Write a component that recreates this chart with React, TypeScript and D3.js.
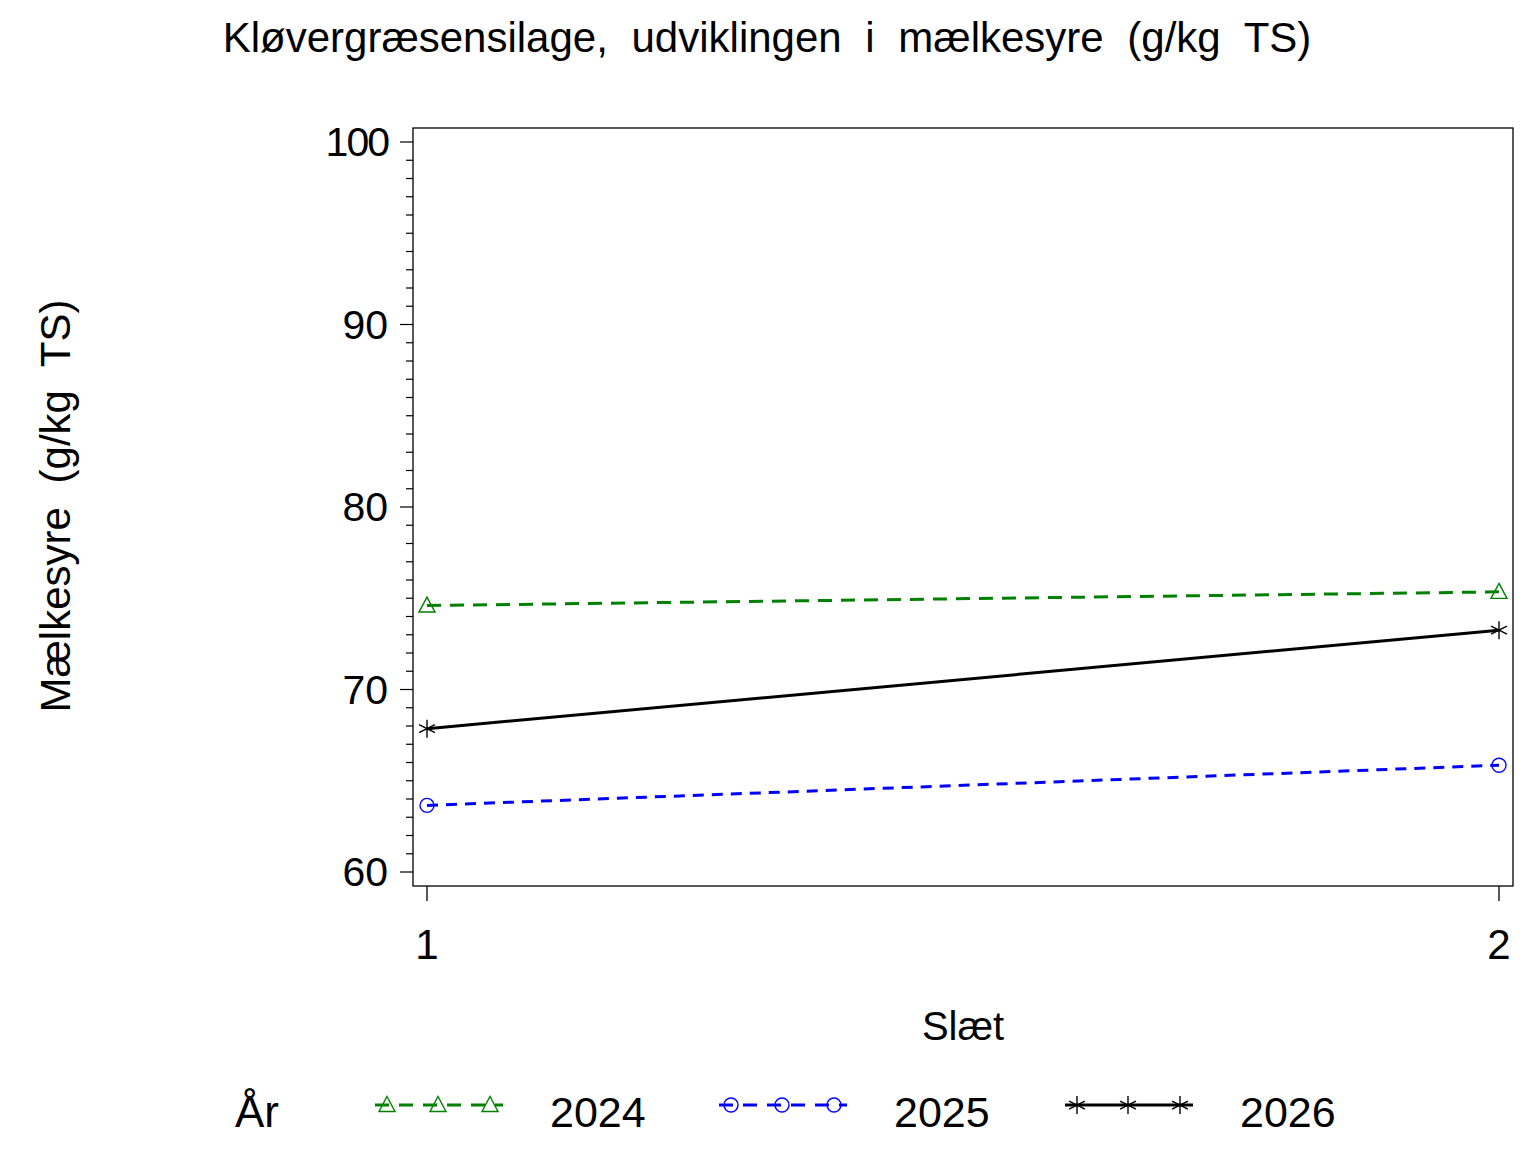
import React from "react";
import * as d3 from "d3";

const slaet = [1, 2];
const v2024 = [74.6, 75.35];
const v2025 = [63.65, 65.85];
const v2026 = [67.85, 73.25];
const yTicks = [60, 70, 80, 90, 100];
const minorTicks = d3.range(60, 101, 1);

const SERIES = [
  { key: "2024", values: v2024, color: "#008000", dash: "14,9", marker: "triangle" },
  { key: "2025", values: v2025, color: "#0000ff", dash: "11,8", marker: "circle" },
  { key: "2026", values: v2026, color: "#000000", dash: "none", marker: "star" },
] as const;

const FONT = "'Liberation Sans', Arial, sans-serif";

function Marker({ type, x, y, color }: { type: string; x: number; y: number; color: string }) {
  if (type === "triangle") {
    return (
      <path
        d={`M${x},${y - 8.5} L${x + 8},${y + 6.5} L${x - 8},${y + 6.5} Z`}
        fill="none"
        stroke={color}
        strokeWidth={1.4}
      />
    );
  }
  if (type === "circle") {
    return <circle cx={x} cy={y} r={7} fill="none" stroke={color} strokeWidth={1.4} />;
  }
  // star: vertical line plus two diagonals
  const r = 8;
  const dx = r * Math.cos(Math.PI / 6);
  const dy = r * Math.sin(Math.PI / 6);
  return (
    <g stroke={color} strokeWidth={1.4}>
      <line x1={x} x2={x} y1={y - r - 1} y2={y + r + 1} />
      <line x1={x - dx - 1} x2={x + dx + 1} y1={y - dy} y2={y + dy} />
      <line x1={x - dx - 1} x2={x + dx + 1} y1={y + dy} y2={y - dy} />
    </g>
  );
}

export default function App() {
  const frame = { left: 413, right: 1513, top: 128, bottom: 886 };
  const x = d3.scaleLinear().domain([1, 2]).range([427, 1499]);
  const y = d3.scaleLinear().domain([60, 100]).range([872, 142]);

  const line = d3
    .line<number>()
    .x((_, i) => x(slaet[i]))
    .y((d) => y(d));

  const legendX = d3.scaleOrdinal<string, number>().domain(SERIES.map((s) => s.key)).range([375, 719, 1065]);
  const legendY = 1105;

  return (
    <svg
      width={1536}
      height={1152}
      style={{ position: "absolute", left: 0, top: 0, background: "#fff" }}
      fontFamily={FONT}
    >
      <rect width={1536} height={1152} fill="#fff" />

      {/* Title */}
      <text x={767} y={52} fontSize={42} textAnchor="middle" wordSpacing={12}>
        Kløvergræsensilage, udviklingen i mælkesyre (g/kg TS)
      </text>

      {/* Frame */}
      <rect
        x={frame.left}
        y={frame.top}
        width={frame.right - frame.left}
        height={frame.bottom - frame.top}
        fill="none"
        stroke="#000"
        strokeWidth={1.3}
      />

      {/* Y axis ticks */}
      {minorTicks.map((t) => (
        <line
          key={t}
          x1={t % 10 === 0 ? 400 : 406}
          x2={frame.left}
          y1={y(t)}
          y2={y(t)}
          stroke="#000"
          strokeWidth={1.2}
        />
      ))}
      {yTicks.map((t) => (
        <text key={t} x={388} y={y(t) + 14} fontSize={41} textAnchor="end" letterSpacing={t === 100 ? -2 : 0}>
          {t}
        </text>
      ))}

      {/* X axis ticks */}
      {slaet.map((s) => (
        <g key={s}>
          <line x1={x(s)} x2={x(s)} y1={frame.bottom} y2={frame.bottom + 15} stroke="#000" strokeWidth={1.3} />
          <text x={x(s)} y={959} fontSize={42} textAnchor="middle">
            {s}
          </text>
        </g>
      ))}

      {/* Axis labels */}
      <text x={963} y={1040} fontSize={40} textAnchor="middle">
        Slæt
      </text>
      <text transform="translate(70,506) rotate(-90)" fontSize={42} textAnchor="middle" wordSpacing={12}>
        Mælkesyre (g/kg TS)
      </text>

      {/* Series */}
      {SERIES.map((s) => (
        <g key={s.key}>
          <path
            d={line(s.values as unknown as number[]) || ""}
            fill="none"
            stroke={s.color}
            strokeWidth={3}
            strokeDasharray={s.dash}
          />
          {s.values.map((v, i) => (
            <Marker key={i} type={s.marker} x={x(slaet[i])} y={y(v)} color={s.color} />
          ))}
        </g>
      ))}

      {/* Legend */}
      <text x={235} y={1127} fontSize={44}>
        År
      </text>
      {SERIES.map((s) => {
        const lx = legendX(s.key);
        return (
          <g key={s.key}>
            <line
              x1={lx}
              x2={lx + 128}
              y1={legendY}
              y2={legendY}
              stroke={s.color}
              strokeWidth={3}
              strokeDasharray={s.dash === "none" ? undefined : "14,10"}
            />
            {[12, 63, 115].map((o) => (
              <Marker key={o} type={s.marker} x={lx + o} y={legendY} color={s.color} />
            ))}
            <text x={lx + 175} y={1127} fontSize={43}>
              {s.key}
            </text>
          </g>
        );
      })}
    </svg>
  );
}
